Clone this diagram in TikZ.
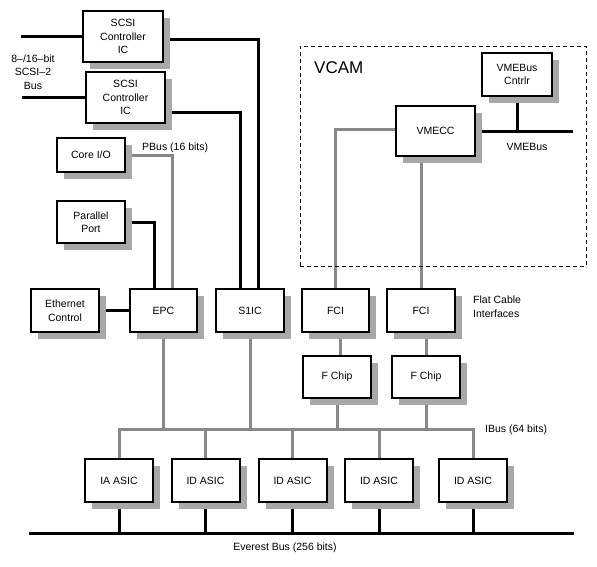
\documentclass[tikz,border=0pt]{standalone}
\usepackage{fontspec}
\setmainfont{Liberation Sans}
\usetikzlibrary{shadows,backgrounds}
\definecolor{linegray}{RGB}{136,136,136}
\definecolor{shadowgray}{RGB}{168,168,168}
\begin{document}
\begin{tikzpicture}[x=1pt,y=-1pt,
  font=\fontsize{10.5}{13.5}\selectfont,
  chip/.style={draw,line width=2pt,fill=white,align=center,inner sep=0pt,
    minimum width=68pt,minimum height=43pt,
    drop shadow={shadow xshift=7pt,shadow yshift=-7pt,fill=shadowgray,opacity=1}},
  bbus/.style={line width=3pt},
  gbus/.style={line width=3pt,draw=linegray},
  lbl/.style={align=left,inner sep=0pt}]

\useasboundingbox (0,0) rectangle (597,566);

% VCAM module
\node[draw,line width=0.9pt,dash pattern=on 4pt off 3pt,minimum width=286pt,minimum height=220pt] (vcam) at (443,156) {};
\node[lbl,anchor=west,font=\fontsize{17}{20}\selectfont] (vcamlbl) at (314,68) {VCAM};

% chips
\node[chip,minimum width=80pt,minimum height=51pt] (scsia) at (123,36.5) {SCSI\\Controller\\IC};
\node[chip,minimum width=79pt,minimum height=51pt] (scsib) at (125.5,97.5) {SCSI\\Controller\\IC};
\node[chip,minimum height=34pt] (coreio) at (91,155) {Core I/O};
\node[chip,minimum height=42pt] (parport) at (91,222) {Parallel\\Port};
\node[chip] (ether) at (65,310.5) {Ethernet\\Control};
\node[chip,minimum width=67pt] (epc) at (163.5,310.5) {EPC};
\node[chip] (s1ic) at (250,310.5) {S1IC};
\node[chip,minimum width=67pt] (fcia) at (335.5,310.5) {FCI};
\node[chip] (fcib) at (421,310.5) {FCI};
\node[chip,minimum height=42pt] (fchipa) at (337,377) {F Chip};
\node[chip,minimum height=42pt] (fchipb) at (426,377) {F Chip};
\node[chip,minimum width=79pt,minimum height=50pt] (vmecc) at (435.5,131) {VMECC};
\node[chip,minimum width=70pt] (vmectl) at (517,74.5) {VMEBus\\Cntrlr};
\node[chip] (asic1) at (119,480.5) {IA ASIC};
\node[chip] (asic2) at (205.5,480.5) {ID ASIC};
\node[chip] (asic3) at (292.5,480.5) {ID ASIC};
\node[chip] (asic4) at (379,480.5) {ID ASIC};
\node[chip] (asic5) at (473,480.5) {ID ASIC};

% bus ends
\coordinate (scsibusa) at (21,36.5);
\coordinate (scsibusb) at (22,97.5);
\coordinate (vmebus) at (573,131);
\coordinate (ibus) at (300,429);
\coordinate (evl) at (29,533);
\coordinate (evr) at (574,533);

% labels
\node[align=center,inner sep=0pt] (scsilbl) at (33,72) {8–/16–bit\\SCSI–2\\Bus};
\node[lbl,anchor=west] (pbuslbl) at (142,148) {PBus (16 bits)};
\node[lbl,anchor=north west] (fcilbl) at (473,296) {Flat Cable\\Interfaces};
\node[lbl,anchor=west] (ibuslbl) at (485,430) {IBus (64 bits)};
\node[lbl] (vmebuslbl) at (527,147) {VMEBus};
\node[lbl] (evlbl) at (285,548) {Everest Bus (256 bits)};

\begin{pgfonlayer}{background}
% black connections
\draw[bbus] (scsibusa) -- (scsibusa -| scsia.west);
\draw[bbus] (scsibusb) -- (scsibusb -| scsib.west);
\draw[bbus] ([yshift=-2.5pt]scsia.east) -| ([xshift=8pt]s1ic.north);
\draw[bbus] ([yshift=-14.5pt]scsib.east) -| ([xshift=-10pt]s1ic.north);
\draw[bbus] (parport) -| ([xshift=-9.5pt]epc.north);
\draw[bbus] (ether) -- (epc);
\draw[bbus] (vmecc) -- (vmebus);
\draw[bbus] (vmectl) -- (vmectl |- vmebus);
\draw[bbus] (evl) -- (evr);
\foreach \n in {1,...,5}
  \draw[bbus] (asic\n) -- (asic\n |- evl);

% gray connections
\draw[gbus] (coreio) -| ([xshift=8.5pt]epc.north);
\draw[gbus] ([yshift=2pt]vmecc.west) -| (fcia);
\draw[gbus] (fcib) -- (fcib |- vmecc);
\draw[gbus] ([xshift=3.5pt]fchipa.north) -- ([xshift=3.5pt]fchipa.north |- fcia);
\draw[gbus] (fchipb) -- (fchipb |- fcib);
\draw[gbus] (asic1) |- (ibus) -| (asic5);
\foreach \n in {2,3,4}
  \draw[gbus] (asic\n) -- (asic\n |- ibus);
\foreach \n in {epc,s1ic,fchipa,fchipb}
  \draw[gbus] (\n) -- (\n |- ibus);
\end{pgfonlayer}

\end{tikzpicture}
\end{document}
